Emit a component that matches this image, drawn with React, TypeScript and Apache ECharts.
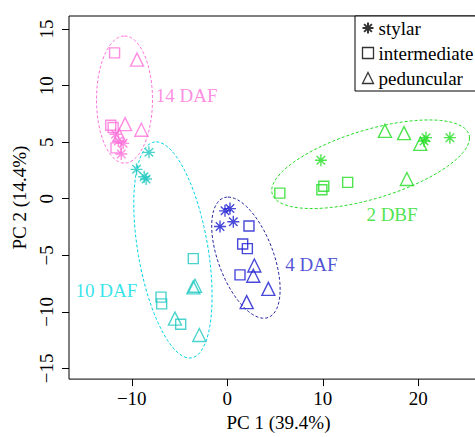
import React, { useEffect, useRef } from "react";
import * as echarts from "echarts";

// ---- data ----
const xTicks = [-10, 0, 10, 20];
const yTicks = [-15, -10, -5, 0, 5, 10, 15];
const tissues = ["stylar", "intermediate", "peduncular"];
const groups = ["14 DAF", "10 DAF", "4 DAF", "2 DBF"];

const daf14Stylar = [[-11.7, 5.7], [-11.4, 5.1], [-10.9, 4.9], [-11.1, 3.95]];
const daf14Inter = [[-11.8, 12.9], [-12.2, 6.5], [-11.95, 6.3], [-11.65, 4.5]];
const daf14Ped = [[-9.45, 12.3], [-10.7, 6.6], [-9.0, 6.1], [-11.3, 5.6]];

const daf10Stylar = [[-8.2, 4.1], [-9.5, 2.6], [-8.5, 1.75], [-8.7, 1.95]];
const daf10Inter = [[-3.56, -5.3], [-6.94, -8.7], [-6.87, -9.3], [-4.88, -11.1]];
const daf10Ped = [[-3.56, -7.84], [-3.38, -7.7], [-5.48, -10.6], [-2.93, -12.05]];

const daf4Stylar = [[-0.24, -1.07], [0.28, -0.87], [0.63, -2.03], [-0.76, -2.46]];
const daf4Inter = [[2.27, -2.41], [1.61, -4.0], [2.1, -4.41], [1.33, -6.73]];
const daf4Ped = [[2.83, -5.9], [2.72, -6.81], [4.3, -7.97], [2.03, -9.14]];

const dbf2Stylar = [[9.8, 3.4], [20.8, 5.4], [20.6, 5.1], [23.3, 5.4]];
const dbf2Inter = [[5.5, 0.5], [9.9, 0.8], [10.1, 1.1], [12.6, 1.45]];
const dbf2Ped = [[16.5, 6.0], [18.5, 5.8], [20.2, 4.85], [18.8, 1.74]];

// ellipse: centre x, centre y, conjugate vector A (x,y), conjugate vector B (x,y)
const ellipse14 = [-10.76, 8.77, 0, 5.62, 2.93, 0];
const ellipse10 = [-5.69, -4.53, -1.749, 9.556, 3.708, 0];
const ellipse4 = [1.95, -5.21, -1.875, 5.357, 3.05, 0];
const ellipse2 = [15.0, 3.05, 10.35, 2.316, 0, 3.16];

const groupLabelPos = [[-4.25, 9.16], [-12.65, -8.12], [8.81, -5.78], [17.24, -1.39]];

const groupColors = ["#ff70da", "#1fc8c0", "#1c1cd0", "#22dd22"];
const ellipseColors = ["#ff70da", "#00d4e4", "#2424a0", "#22dd22"];
const labelColors = ["#ff70da", "#00dde6", "#2424cc", "#22dd22"];

const FONT = "Liberation Serif";
const starPath =
  "path://M0,-10L0,10M-10,0L10,0M-7.07,-7.07L7.07,7.07M-7.07,7.07L7.07,-7.07";
const symbols = [starPath, "rect", "triangle"];
const symbolSizes = [12, 10, 13];

const fmt = (v: number) => (v < 0 ? "\u2212" + Math.abs(v) : String(v));

export default function App() {
  const ref = useRef<HTMLDivElement>(null);
  useEffect(() => {
    if (!ref.current) return;
    const chart = echarts.init(ref.current, null, { renderer: "svg" });

    const groupData = [
      [daf14Stylar, daf14Inter, daf14Ped],
      [daf10Stylar, daf10Inter, daf10Ped],
      [daf4Stylar, daf4Inter, daf4Ped],
      [dbf2Stylar, dbf2Inter, dbf2Ped],
    ];
    const ellipses = [ellipse14, ellipse10, ellipse4, ellipse2];

    const series: any[] = [];
    groupData.forEach((g, gi) => {
      g.forEach((pts, ti) => {
        series.push({
          type: "scatter",
          name: tissues[ti],
          data: pts,
          symbol: symbols[ti],
          symbolSize: symbolSizes[ti],
          itemStyle: { color: "none", borderColor: groupColors[gi], borderWidth: 1.4 },
          emphasis: { disabled: true },
          silent: true,
          z: 3,
        });
      });
    });

    series.push({
      type: "custom",
      name: "ellipses",
      silent: true,
      data: ellipses.map((e, i) => [...e, i]),
      encode: { x: 0, y: 1 },
      renderItem: (params: any, api: any) => {
        const cx = api.value(0), cy = api.value(1);
        const ax = api.value(2), ay = api.value(3);
        const bx = api.value(4), by = api.value(5);
        const idx = api.value(6);
        const pts: number[][] = [];
        const n = 120;
        for (let k = 0; k <= n; k++) {
          const t = (k / n) * Math.PI * 2;
          const c = Math.cos(t), s = Math.sin(t);
          pts.push(api.coord([cx + ax * c + bx * s, cy + ay * c + by * s]));
        }
        return {
          type: "polyline",
          shape: { points: pts },
          style: { stroke: ellipseColors[idx], lineWidth: 1, lineDash: [3, 2], fill: "none" },
        };
      },
      z: 2,
    });

    series.push({
      type: "scatter",
      name: "groupLabels",
      silent: true,
      symbolSize: 0,
      data: groupLabelPos.map((p, i) => ({
        value: p,
        label: {
          show: true,
          position: "inside",
          formatter: groups[i],
          color: labelColors[i],
          fontFamily: FONT,
          fontSize: 19,
        },
      })),
      z: 4,
    });

    const axisCommon = {
      type: "value",
      splitLine: { show: false },
      axisLine: { show: false, onZero: false },
      axisTick: { show: true, inside: false, length: 7, lineStyle: { color: "#000", width: 1 } },
      nameTextStyle: { fontFamily: FONT, fontSize: 19, color: "#000" },
    };

    chart.setOption({
      animation: false,
      backgroundColor: "#fff",
      textStyle: { fontFamily: FONT },
      grid: {
        left: 69,
        right: 12,
        top: 16,
        bottom: 52,
        show: true,
        borderColor: "#000",
        borderWidth: 1,
        backgroundColor: "transparent",
      },
      legend: {
        orient: "vertical",
        left: 355,
        top: 16,
        padding: [2, 6, 3, 5],
        itemWidth: 11,
        itemHeight: 11,
        itemGap: 5,
        selectedMode: false,
        borderColor: "#000",
        borderWidth: 1,
        backgroundColor: "#fff",
        textStyle: { fontFamily: FONT, fontSize: 19, color: "#000", lineHeight: 20 },
        data: tissues.map((t, i) => ({
          name: t,
          icon: i === 0 ? starPath : i === 1 ? "path://M0,0L10,0L10,10L0,10Z" : "triangle",
          itemStyle: { color: "none", borderColor: "#000", borderWidth: i === 0 ? 2 : 1.3 },
        })),
      },
      xAxis: {
        ...axisCommon,
        min: -16.57,
        max: 27.29,
        name: "PC 1 (39.4%)",
        nameLocation: "middle",
        nameGap: 33,
        axisTick: { ...axisCommon.axisTick, customValues: xTicks },
        axisLabel: {
          customValues: xTicks,
          formatter: fmt,
          fontFamily: FONT,
          fontSize: 19,
          color: "#000",
          margin: 10,
        },
      },
      yAxis: {
        ...axisCommon,
        min: -15.95,
        max: 16.16,
        name: "PC 2 (14.4%)",
        nameLocation: "middle",
        nameGap: 37,
        axisTick: { ...axisCommon.axisTick, customValues: yTicks },
        axisLabel: {
          customValues: yTicks,
          formatter: fmt,
          rotate: 90,
          fontFamily: FONT,
          fontSize: 19,
          color: "#000",
          margin: 13,
        },
      },
      series,
    });

    return () => chart.dispose();
  }, []);

  return (
    <div
      style={{
        position: "fixed",
        left: 0,
        top: 0,
        width: 475,
        height: 437,
        overflow: "hidden",
        background: "#fff",
      }}
    >
      <div ref={ref} style={{ width: 500, height: 437 }} />
    </div>
  );
}
